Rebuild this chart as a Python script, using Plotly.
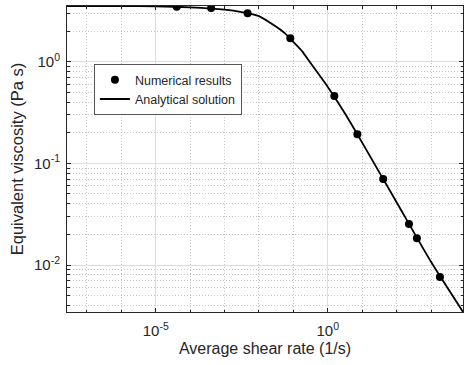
import plotly.graph_objects as go

# Numerical results
shear_num = [4.07e-5, 4.07e-4, 4.68e-3, 8.13e-2, 1.55, 7.24, 40.7, 229, 389, 1820]
visc_num = [3.47, 3.37, 2.99, 1.70, 0.46, 0.193, 0.0703, 0.0254, 0.0183, 0.00764]

# Analytical solution
shear_ana = [2.6e-8, 1e-6, 1e-5, 1e-4, 1e-3, 3.16e-3, 1e-2, 2.95e-2, 5.6e-2, 0.1,
             0.178, 0.316, 1, 3.16, 10, 100, 1000, 8500]
visc_ana = [3.53, 3.52, 3.51, 3.43, 3.26, 3.08, 2.81, 2.24, 1.91, 1.56,
            1.27, 0.97, 0.564, 0.309, 0.160, 0.0414, 0.01075, 0.00346]

x_tickvals = [1e-5, 1]
x_ticktext = ["10<sup>-5</sup>", "10<sup>0</sup>"]
y_tickvals = [0.01, 0.1, 1]
y_ticktext = ["10<sup>-2</sup>", "10<sup>-1</sup>", "10<sup>0</sup>"]

font = "Liberation Sans, Arial, sans-serif"
axcol = "#262626"

fig = go.Figure()
fig.add_trace(go.Scatter(
    x=shear_ana, y=visc_ana, mode="lines", name="Analytical solution",
    line=dict(color="black", width=1.8, shape="spline", smoothing=0.6),
    legendrank=2,
))
fig.add_trace(go.Scatter(
    x=shear_num, y=visc_num, mode="markers", name="Numerical results",
    marker=dict(color="black", size=8),
    legendrank=1,
))

common = dict(
    showline=True, linecolor=axcol, linewidth=1, mirror="allticks",
    ticks="inside", ticklen=4, tickcolor=axcol,
    showgrid=True, gridcolor="#dedede", gridwidth=1,
    zeroline=False,
    tickfont=dict(family=font, size=15, color="#262626"),
)
minor_common = dict(ticks="inside", ticklen=2.5, tickcolor=axcol,
                    showgrid=True, gridcolor="#c4c4c4", griddash="1px,2px", gridwidth=1)

fig.update_layout(
    width=464, height=365,
    margin=dict(l=67, r=1, t=6, b=53),
    paper_bgcolor="white", plot_bgcolor="white",
    font=dict(family=font, color="#262626"),
    showlegend=True,
    legend=dict(
        x=0.068, y=0.81, xanchor="left", yanchor="top",
        bgcolor="white", bordercolor="#555555", borderwidth=1,
        font=dict(family=font, size=12.5, color="#262626"),
        itemwidth=30, tracegroupgap=0,
    ),
    xaxis=dict(
        type="log", range=[-7.58, 3.93],
        tickmode="array", tickvals=x_tickvals, ticktext=x_ticktext,
        ticklabelstandoff=5,
        title=dict(text="Average shear rate (1/s)", font=dict(family=font, size=16, color="#262626"), standoff=4),
        minor=dict(dtick=1, **minor_common),
        **common,
    ),
    yaxis=dict(
        type="log", range=[-2.462, 0.548],
        tickmode="array", tickvals=y_tickvals, ticktext=y_ticktext,
        ticklabelstandoff=3,
        title=dict(text="Equivalent viscosity (Pa s)", font=dict(family=font, size=16.5, color="#262626"), standoff=6),
        minor=dict(dtick="D1", **minor_common),
        **common,
    ),
)

fig.write_html("out.html")
